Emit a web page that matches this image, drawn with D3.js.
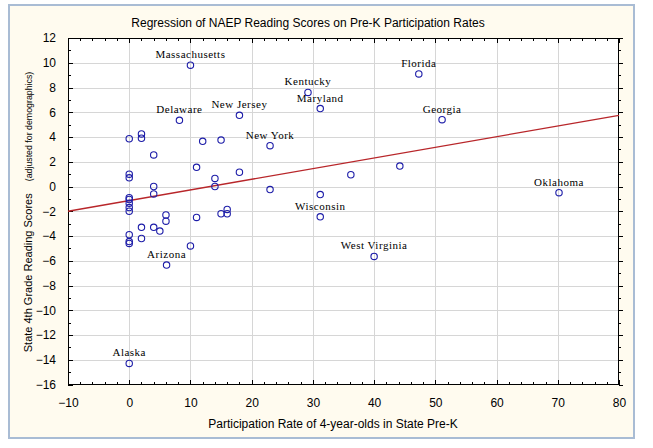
<!DOCTYPE html>
<html>
<head>
<meta charset="utf-8">
<script src="https://cdn.jsdelivr.net/npm/d3@7"></script>
<style>
  html, body { margin: 0; padding: 0; background: #ffffff; }
  svg { display: block; }
</style>
</head>
<body>
<svg id="chart" width="653" height="448"></svg>
<script>
// ---- data ----
const title = "Regression of NAEP Reading Scores on Pre-K Participation Rates";
const xLabel = "Participation Rate of 4-year-olds in State Pre-K";
const yLabelMain = "State 4th Grade Reading Scores";
const yLabelSub = "(adjusted for demographics)";

const xTicks = [-10, 0, 10, 20, 30, 40, 50, 60, 70, 80];
const yTicks = [-16, -14, -12, -10, -8, -6, -4, -2, 0, 2, 4, 6, 8, 10, 12];

const stateNames = [
  "Massachusetts", "Delaware", "New Jersey", "New York", "Kentucky", "Maryland",
  "Florida", "Georgia", "Oklahoma", "", "", "", "", "Wisconsin", "West Virginia",
  "", "", "", "", "", "", "", "", "", "", "", "", "", "", "", "", "", "", "",
  "", "", "", "", "", "", "", "", "", "", "", "", "", "", "Arizona", "Alaska"
];
const preKRate = [
  10.0, 8.2, 18.0, 23.0, 29.2, 31.2,
  47.3, 51.1, 70.2, 44.2, 36.2, 23.0, 31.2, 31.2, 40.0,
  0, 2, 2, 12, 15, 4, 11, 18, 14, 0, 0, 4, 14, 4, 0, 0, 0, 0, 0,
  6, 6, 11, 15, 16, 16, 2, 4, 5, 2, 10, 0, 0, 0, 6.1, 0
];
const readingScore = [
  9.8, 5.35, 5.75, 3.3, 7.6, 6.3,
  9.1, 5.4, -0.5, 1.65, 0.95, -0.25, -0.65, -2.45, -5.65,
  3.86, 4.25, 3.9, 3.65, 3.75, 2.55, 1.55, 1.15, 0.65, 1.0, 0.7, 0.0, 0.0, -0.6, -0.9, -1.05, -1.35, -1.7, -2.0,
  -2.3, -2.8, -2.5, -2.2, -1.85, -2.2, -3.3, -3.3, -3.6, -4.2, -4.8, -3.9, -4.45, -4.6, -6.35, -14.3
];
// regression line endpoints (x, fitted y)
const fitX = [-10, 80];
const fitY = [-2.0, 5.75];

// ---- layout ----
const svg = d3.select("#chart");
const L = 68, R = 619, T = 38, B = 384.5;
const x = d3.scaleLinear().domain([-10, 80]).range([L, R]);
const y = d3.scaleLinear().domain([-16, 12]).range([B, T]);

// outer panel
svg.append("rect").attr("x", 9).attr("y", 5).attr("width", 625).attr("height", 433)
  .attr("fill", "#fffbef").attr("stroke", "#a9bcd4").attr("stroke-width", 2);

// plot area
svg.append("rect").attr("x", L).attr("y", T).attr("width", R - L).attr("height", B - T)
  .attr("fill", "#ffffff");

// grid
const grid = svg.append("g").attr("stroke", "#d6d6d6").attr("stroke-width", 1).attr("shape-rendering", "crispEdges");
grid.selectAll("line.v").data(xTicks.slice(1, -1)).enter().append("line")
  .attr("x1", d => Math.round(x(d)) + 0.5).attr("x2", d => Math.round(x(d)) + 0.5)
  .attr("y1", T).attr("y2", B);
grid.selectAll("line.h").data(yTicks.slice(1, -1)).enter().append("line")
  .attr("y1", d => Math.round(y(d)) + 0.5).attr("y2", d => Math.round(y(d)) + 0.5)
  .attr("x1", L).attr("x2", R);

// minor tick values
const xMinor = d3.range(-10, 80.01, 2).filter(v => !xTicks.includes(v));
const yMinor = d3.range(-16, 12.01, 1).filter(v => !yTicks.includes(v));

function styleAxis(g) {
  g.select(".domain").remove();
  g.selectAll(".tick line").attr("stroke", "#000").attr("shape-rendering", "crispEdges");
  g.selectAll(".tick text").attr("font-family", "Liberation Sans, Arial, sans-serif")
    .attr("font-size", 12).attr("fill", "#000");
}

// left axis
svg.append("g").attr("transform", `translate(${L},0)`)
  .call(d3.axisLeft(y).tickValues(yTicks).tickSize(-5).tickPadding(12).tickFormat(d3.format("d")))
  .call(styleAxis);
svg.append("g").attr("transform", `translate(${L},0)`)
  .call(d3.axisLeft(y).tickValues(yMinor).tickSize(-3).tickFormat(""))
  .call(styleAxis);
// bottom axis
svg.append("g").attr("transform", `translate(0,${B})`)
  .call(d3.axisBottom(x).tickValues(xTicks).tickSize(-5).tickPadding(14).tickFormat(d3.format("d")))
  .call(styleAxis);
svg.append("g").attr("transform", `translate(0,${B})`)
  .call(d3.axisBottom(x).tickValues(xMinor).tickSize(-3).tickFormat(""))
  .call(styleAxis);
// top axis
svg.append("g").attr("transform", `translate(0,${T})`)
  .call(d3.axisTop(x).tickValues(xTicks).tickSize(-5).tickFormat(""))
  .call(styleAxis);
svg.append("g").attr("transform", `translate(0,${T})`)
  .call(d3.axisTop(x).tickValues(xMinor).tickSize(-3).tickFormat(""))
  .call(styleAxis);
// right axis
svg.append("g").attr("transform", `translate(${R},0)`)
  .call(d3.axisRight(y).tickValues(yTicks).tickSize(4).tickFormat(""))
  .call(styleAxis);
svg.append("g").attr("transform", `translate(${R},0)`)
  .call(d3.axisRight(y).tickValues(yMinor).tickSize(2).tickFormat(""))
  .call(styleAxis);

// frame
svg.append("rect").attr("x", L + 0.5).attr("y", T + 0.5).attr("width", R - L - 1).attr("height", B - T - 1)
  .attr("fill", "none").attr("stroke", "#000").attr("stroke-width", 1).attr("shape-rendering", "crispEdges");

// regression line
svg.append("line")
  .attr("x1", x(fitX[0])).attr("y1", y(fitY[0]))
  .attr("x2", x(fitX[1])).attr("y2", y(fitY[1]))
  .attr("stroke", "#b8262a").attr("stroke-width", 1.3);

// points
const pts = preKRate.map((v, i) => ({ x: v, y: readingScore[i], name: stateNames[i] }));
svg.append("g").selectAll("circle").data(pts).enter().append("circle")
  .attr("cx", d => x(d.x)).attr("cy", d => y(d.y)).attr("r", 3.2)
  .attr("fill", "none").attr("stroke", "#1c1ca8").attr("stroke-width", 1.1);

// state labels
svg.append("g").selectAll("text").data(pts.filter(d => d.name)).enter().append("text")
  .attr("x", d => x(d.x)).attr("y", d => y(d.y) - 7)
  .attr("text-anchor", "middle")
  .attr("font-family", "Liberation Serif, Times New Roman, serif")
  .attr("font-size", 11).attr("letter-spacing", 0.5).attr("fill", "#000")
  .text(d => d.name);

// title
svg.append("text").attr("x", 308).attr("y", 27).attr("text-anchor", "middle")
  .attr("font-family", "Liberation Sans, Arial, sans-serif").attr("font-size", 12).attr("fill", "#000")
  .text(title);

// x label
svg.append("text").attr("x", 333).attr("y", 428).attr("text-anchor", "middle")
  .attr("font-family", "Liberation Sans, Arial, sans-serif").attr("font-size", 12).attr("fill", "#000")
  .text(xLabel);

// y label
const yl = svg.append("text").attr("transform", "translate(32,212) rotate(-90)")
  .attr("text-anchor", "middle")
  .attr("font-family", "Liberation Sans, Arial, sans-serif").attr("fill", "#000");
yl.append("tspan").attr("font-size", 11).text(yLabelMain);
yl.append("tspan").attr("font-size", 8.8).attr("dx", 12).text(yLabelSub);
</script>
</body>
</html>
